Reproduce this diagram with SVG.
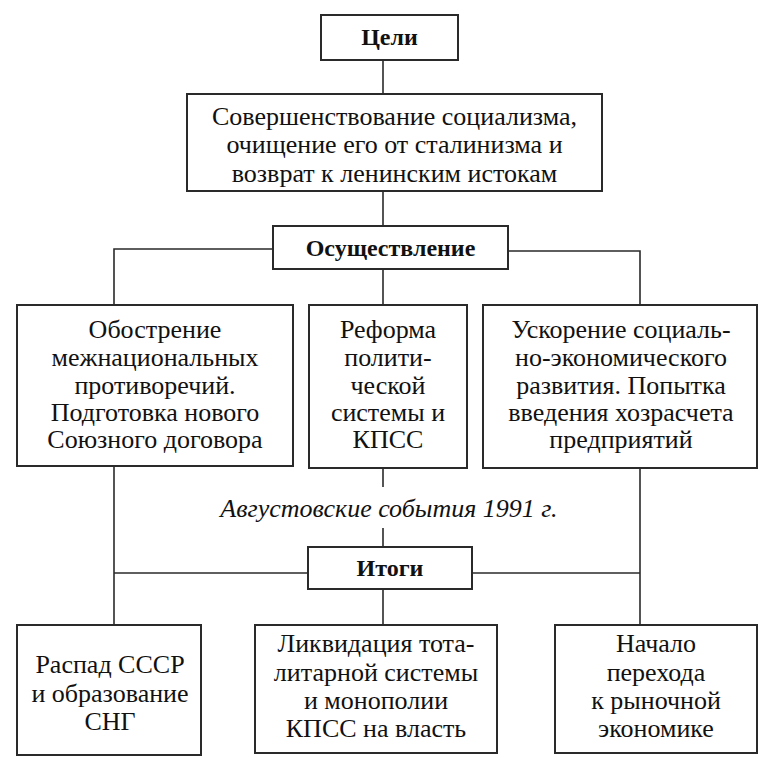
<svg xmlns="http://www.w3.org/2000/svg" width="771" height="768" viewBox="0 0 771 768">
<style>
.box{fill:#fff;stroke:#2a2a2a;stroke-width:2}
.ln{fill:none;stroke:#2a2a2a;stroke-width:1.6}
.t{font-size:26px}
.b{font-size:24px;font-weight:bold}
.i{font-size:26px;font-style:italic}
</style>
<rect width="771" height="768" fill="#fff"/>
<g id="connectors">
<path class="ln" d="M383,60V94"/>
<path class="ln" d="M383,191V226"/>
<path class="ln" d="M273,249H114V305"/>
<path class="ln" d="M508,251H640V305"/>
<path class="ln" d="M383,269V305"/>
<path class="ln" d="M114,466V625"/>
<path class="ln" d="M640,468V625"/>
<path class="ln" d="M383,468V487"/>
<path class="ln" d="M383,528V547"/>
<path class="ln" d="M308,573H114"/>
<path class="ln" d="M472,573H640"/>
<path class="ln" d="M383,589V625"/>
</g>
<g font-family="Liberation Serif, Times New Roman, serif" fill="#111" text-anchor="middle">
<g id="goals">
<rect class="box" x="321" y="15" width="137" height="45"/>
<text class="b" x="389.5" y="45">Цели</text>
</g>
<g id="goal-text">
<rect class="box" x="187" y="94" width="415" height="97"/>
<text class="t" x="394.5" y="125">Совершенствование социализма,</text>
<text class="t" x="394.5" y="153">очищение его от сталинизма и</text>
<text class="t" x="394.5" y="182">возврат к ленинским истокам</text>
</g>
<g id="implementation">
<rect class="box" x="273" y="226" width="235" height="43"/>
<text class="b" x="390.5" y="256">Осуществление</text>
</g>
<g id="national">
<rect class="box" x="17" y="305" width="276" height="161"/>
<text class="t" x="155" y="338">Обострение</text>
<text class="t" x="155" y="366">межнациональных</text>
<text class="t" x="155" y="393.5">противоречий.</text>
<text class="t" x="155" y="421">Подготовка нового</text>
<text class="t" x="155" y="448">Союзного договора</text>
</g>
<g id="political">
<rect class="box" x="309" y="305" width="158" height="163"/>
<text class="t" x="388" y="338">Реформа</text>
<text class="t" x="388" y="366">полити-</text>
<text class="t" x="388" y="393.5">ческой</text>
<text class="t" x="388" y="421">системы и</text>
<text class="t" x="388" y="448">КПСС</text>
</g>
<g id="economic">
<rect class="box" x="483" y="305" width="274" height="163"/>
<text class="t" x="621" y="338">Ускорение социаль-</text>
<text class="t" x="621" y="366">но-экономического</text>
<text class="t" x="621" y="393.5">развития. Попытка</text>
<text class="t" x="621" y="421">введения хозрасчета</text>
<text class="t" x="621" y="448">предприятий</text>
</g>
<text class="i" x="389" y="517">Августовские события 1991 г.</text>
<g id="results">
<rect class="box" x="308" y="547" width="164" height="42"/>
<text class="b" x="390" y="576">Итоги</text>
</g>
<g id="ussr">
<rect class="box" x="17" y="625" width="184" height="130"/>
<text class="t" x="110" y="673">Распад СССР</text>
<text class="t" x="110" y="702">и образование</text>
<text class="t" x="110" y="730">СНГ</text>
</g>
<g id="liquidation">
<rect class="box" x="255" y="625" width="242" height="128"/>
<text class="t" x="376" y="652">Ликвидация тота-</text>
<text class="t" x="376" y="681">литарной системы</text>
<text class="t" x="376" y="709">и монополии</text>
<text class="t" x="376" y="737">КПСС на власть</text>
</g>
<g id="market">
<rect class="box" x="555" y="625" width="202" height="128"/>
<text class="t" x="656" y="652">Начало</text>
<text class="t" x="656" y="681">перехода</text>
<text class="t" x="656" y="709">к рыночной</text>
<text class="t" x="656" y="737">экономике</text>
</g>
</g>
</svg>
